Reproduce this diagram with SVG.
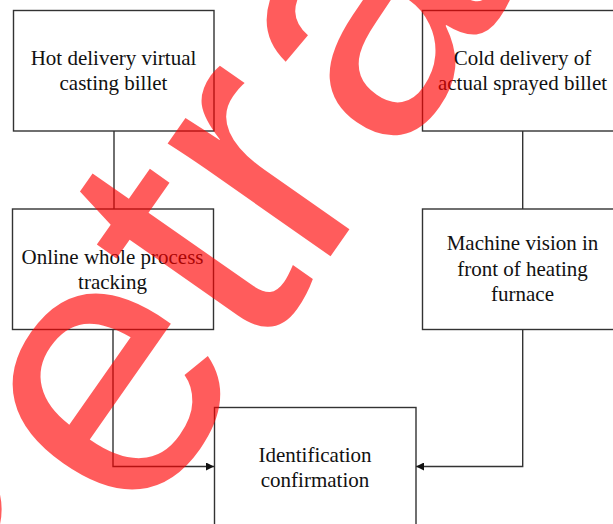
<svg xmlns="http://www.w3.org/2000/svg" width="613" height="524" viewBox="0 0 613 524">
  <defs>
    <style>
      .box { fill: #ffffff; stroke: #333333; stroke-width: 1.4; }
      .lbl { font-family: "Liberation Serif", "Times New Roman", serif; font-size: 21px; fill: #111111; text-anchor: middle; }
      .conn { fill: none; stroke: #333333; stroke-width: 1.4; }
      .wm { font-family: "Liberation Sans", Arial, sans-serif; font-size: 375px; fill: #ff0000; fill-opacity: 0.64; }
    </style>
    <marker id="arr" viewBox="0 0 10 10" refX="10" refY="5" markerWidth="9" markerHeight="8" markerUnits="userSpaceOnUse" orient="auto">
      <path d="M0,0 L10,5 L0,10 Z" fill="#111111"/>
    </marker>
  </defs>
  <rect width="613" height="524" fill="#ffffff"/>

  <g id="connectors">
    <path class="conn" d="M114,131 V209"/>
    <path class="conn" d="M522.7,131 V209"/>
    <path class="conn" d="M113,329.5 V466.5 H214" marker-end="url(#arr)"/>
    <path class="conn" d="M522.7,329.5 V466.5 H416" marker-end="url(#arr)"/>
  </g>

  <g id="hot">
    <rect class="box" x="13.5" y="10.5" width="200.5" height="120.5"/>
    <text class="lbl" x="113.5" y="65">Hot delivery virtual</text>
    <text class="lbl" x="113.5" y="90">casting billet</text>
  </g>
  <g id="cold">
    <rect class="box" x="422.5" y="10.5" width="200" height="120.5"/>
    <text class="lbl" x="522.5" y="65">Cold delivery of</text>
    <text class="lbl" x="522.5" y="90">actual sprayed billet</text>
  </g>
  <g id="online">
    <rect class="box" x="12.5" y="209" width="201" height="120.5"/>
    <text class="lbl" x="112.5" y="263.5">Online whole process</text>
    <text class="lbl" x="112.5" y="288.5">tracking</text>
  </g>
  <g id="vision">
    <rect class="box" x="422.5" y="209" width="200" height="120.5"/>
    <text class="lbl" x="522.5" y="250">Machine vision in</text>
    <text class="lbl" x="522.5" y="275.5">front of heating</text>
    <text class="lbl" x="522.5" y="301">furnace</text>
  </g>
  <g id="ident">
    <rect class="box" x="214.5" y="407.5" width="201.5" height="125"/>
    <text class="lbl" x="315" y="461.5">Identification</text>
    <text class="lbl" x="315" y="486.5">confirmation</text>
  </g>

  <text class="wm" transform="translate(-19.1,755.6) rotate(-55)" dx="0 0 0 0 10">Retracted</text>
</svg>
